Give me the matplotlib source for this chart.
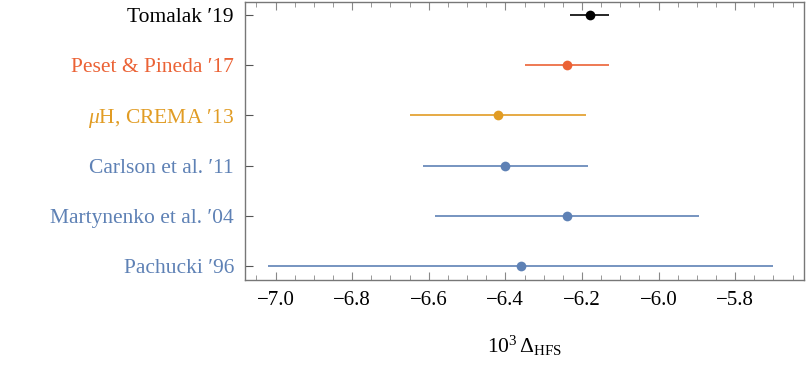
#!/usr/bin/env python3
"""
Forest plot of 10^3 Delta_HFS determinations
"""
import matplotlib
matplotlib.use('Agg')
import matplotlib.pyplot as plt
from matplotlib.ticker import MultipleLocator, FuncFormatter

# Data (top to bottom)
labels = ["Tomalak \u203219", "Peset & Pineda \u203217", "$\\mu$H, CREMA \u203213",
          "Carlson et al. \u203211", "Martynenko et al. \u203204", "Pachucki \u203296"]
values = [-6.18, -6.24, -6.42, -6.40, -6.24, -6.36]
errors = [0.05, 0.11, 0.23, 0.215, 0.345, 0.66]
colors = ["#000000", "#EB6235", "#E19C24", "#5E81B5", "#5E81B5", "#5E81B5"]

plt.rcParams['font.family'] = ['Liberation Serif', 'DejaVu Serif']
plt.rcParams['mathtext.fontset'] = 'custom'
plt.rcParams['mathtext.rm'] = 'Liberation Serif'
plt.rcParams['mathtext.it'] = 'Liberation Serif:italic'

fig = plt.figure(figsize=(8.07, 3.69), dpi=100)
ax = fig.add_axes([245 / 807, 1 - 280 / 369, (804 - 245) / 807, (280 - 1.7) / 369])

n = len(labels)
ypos = list(range(n, 0, -1))
for y, v, e, c in zip(ypos, values, errors, colors):
    ax.plot([v - e, v + e], [y, y], color=c, lw=1.4, alpha=0.85, solid_capstyle='butt')
    ax.plot(v, y, 'o', color=c, ms=7, mec='none')

ax.set_xlim(-7.08, -5.62)
ax.set_ylim(0.72, 6.265)
ax.set_yticks(ypos)
ax.set_yticklabels(labels, fontsize=15.5)
for t, c in zip(ax.get_yticklabels(), colors):
    t.set_color(c)

ax.xaxis.set_major_locator(MultipleLocator(0.2))
ax.xaxis.set_minor_locator(MultipleLocator(0.05))
ax.xaxis.set_major_formatter(FuncFormatter(lambda x, p: f"\u2212{abs(x):.1f}"))
ax.tick_params(axis='x', which='major', direction='in', length=6, width=0.8,
               color='#888888', top=True, labelsize=15, pad=8)
ax.tick_params(axis='x', which='minor', direction='in', length=3.5, width=0.6,
               color='#888888', top=True)
ax.tick_params(axis='y', which='major', direction='in', length=6, width=0.8,
               color='#555555', pad=8)

for s in ax.spines.values():
    s.set_color('#777777')
    s.set_linewidth(1.0)

ax.set_xlabel("$10^3\\,\\Delta_{\\rm HFS}$", fontsize=15.5, labelpad=17)

plt.savefig('out.png', dpi=100)
plt.close()
